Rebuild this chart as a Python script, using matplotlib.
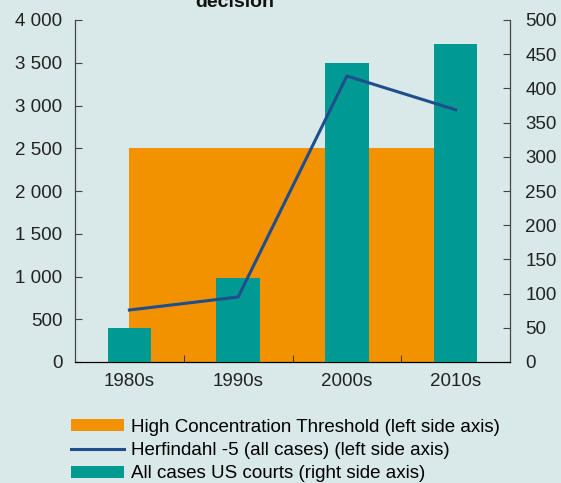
import matplotlib.pyplot as plt
from matplotlib.ticker import FuncFormatter

decades = ["1980s", "1990s", "2000s", "2010s"]
threshold = [2500, 2500, 2500, 2500]
herfindahl = [608, 760, 3345, 2950]
us_cases = [50, 123, 437, 465]


def thousands(v, pos):
    return f"{int(v):,}".replace(",", " ")


def main():
    plt.rcParams["font.family"] = ["Liberation Sans", "DejaVu Sans"]
    bg = "#d9e8e8"
    fig = plt.figure(figsize=(5.61, 4.83), dpi=100, facecolor=bg)
    ax = fig.add_axes([75 / 561, 1 - 362 / 483, 435 / 561, 342 / 483])
    ax.set_facecolor(bg)
    ax2 = ax.twinx()

    x = list(range(len(decades)))
    area = ax.fill_between(x, 0, threshold, color="#f39200", lw=0, zorder=1,
                           label="High Concentration Threshold (left side axis)")
    bars = ax2.bar(x, us_cases, width=0.4, color="#009a93", zorder=2,
                   label="All cases US courts (right side axis)")
    line, = ax2.plot(x, herfindahl, color="#1f4e8c", lw=2.2, zorder=3,
                     transform=ax.transData,
                     label="Herfindahl -5 (all cases) (left side axis)")

    ax.set_xlim(-0.5, 3.5)
    ax.set_ylim(0, 4000)
    ax2.set_ylim(0, 500)
    ax.set_yticks(range(0, 4001, 500))
    ax.yaxis.set_major_formatter(FuncFormatter(thousands))
    ax2.set_yticks(range(0, 501, 50))

    ax.set_xticks(x)
    ax.set_xticklabels(decades)
    ax.set_xticks([0.5, 1.5, 2.5], minor=True)
    ax.tick_params(axis="x", which="major", length=0, pad=8, labelsize=13.5,
                   colors="#222222")
    ax.tick_params(axis="x", which="minor", direction="in", length=5,
                   color="#222222")
    ax.tick_params(axis="y", direction="in", length=5, pad=9, labelsize=13.5,
                   colors="#222222", color="#444444")
    ax2.tick_params(axis="y", direction="in", length=5, pad=11, labelsize=13.5,
                    colors="#222222", color="#444444")

    for a in (ax, ax2):
        a.spines["top"].set_visible(False)
        a.spines["left"].set_color("#444444")
        a.spines["right"].set_color("#444444")
        a.spines["bottom"].set_color("black")

    fig.text(235 / 561, 1 - 7 / 483, "decision", ha="center", va="baseline",
             fontsize=14, fontweight="bold", color="#111111")

    fig.legend(handles=[area, line, bars], loc="lower left",
               bbox_to_anchor=(64 / 561, -6 / 483), frameon=False,
               fontsize=13.5, handlelength=2.85, handleheight=0.6,
               handletextpad=0.35, labelspacing=0.34, borderpad=0.15,
               borderaxespad=0.2)

    fig.savefig("out.png", dpi=100, facecolor=bg)


if __name__ == "__main__":
    main()
